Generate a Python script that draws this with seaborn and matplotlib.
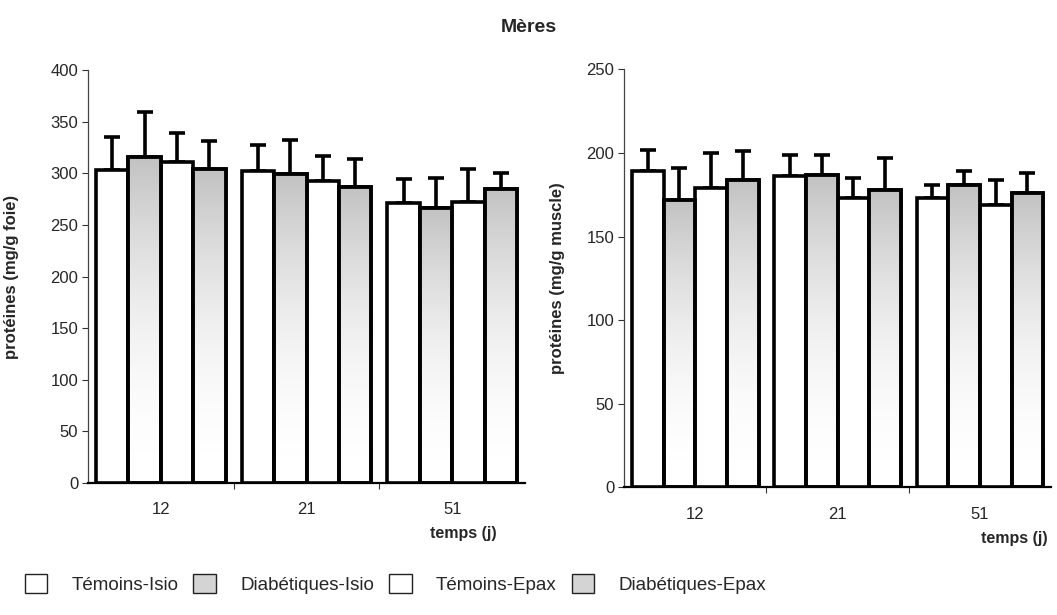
import numpy as np
import pandas as pd
import matplotlib
matplotlib.use("Agg")
import matplotlib.pyplot as plt
import seaborn as sns
from matplotlib.patches import Patch

sns.set_theme(style="white")
plt.rcParams["font.family"] = ["Liberation Sans", "DejaVu Sans"]

# ---- data -------------------------------------------------------------
days = ["12", "21", "51"]
groups = ["Témoins-Isio", "Diabétiques-Isio", "Témoins-Epax", "Diabétiques-Epax"]

# liver proteins (mg/g foie): means and upper error
foie_temoins_isio = [303, 302, 271]
foie_diab_isio = [316, 299, 266]
foie_temoins_epax = [311, 293, 272]
foie_diab_epax = [304, 287, 285]
foie_err_temoins_isio = [32, 25, 23]
foie_err_diab_isio = [43, 33, 29]
foie_err_temoins_epax = [28, 24, 32]
foie_err_diab_epax = [27, 27, 15]

# muscle proteins (mg/g muscle): means and upper error
muscle_temoins_isio = [189, 186, 173]
muscle_diab_isio = [172, 187, 181]
muscle_temoins_epax = [179, 173, 169]
muscle_diab_epax = [184, 178, 176]
muscle_err_temoins_isio = [13, 13, 8]
muscle_err_diab_isio = [19, 12, 8]
muscle_err_temoins_epax = [21, 12, 15]
muscle_err_diab_epax = [17, 19, 12]


def long_table(means, errs):
    rows = []
    for g, m, e in zip(groups, means, errs):
        for d, v, s in zip(days, m, e):
            rows.append({"temps": d, "groupe": g, "valeur": v, "err": s})
    return pd.DataFrame(rows)


foie = long_table(
    [foie_temoins_isio, foie_diab_isio, foie_temoins_epax, foie_diab_epax],
    [foie_err_temoins_isio, foie_err_diab_isio, foie_err_temoins_epax, foie_err_diab_epax],
)
muscle = long_table(
    [muscle_temoins_isio, muscle_diab_isio, muscle_temoins_epax, muscle_diab_epax],
    [muscle_err_temoins_isio, muscle_err_diab_isio, muscle_err_temoins_epax, muscle_err_diab_epax],
)

shaded = {"Diabétiques-Isio", "Diabétiques-Epax"}
palette = {g: "white" for g in groups}

# vertical grey ramp used to shade the diabetic bars (darker on top, fading down)
ramp = np.linspace(0, 1, 256)[:, None]
shade = np.zeros((256, 1, 4))
shade[..., :3] = 0.5
shade[..., 3] = 0.48 * ramp ** 2.0


def draw_panel(ax, df, ymax, yticks, ylabel, xlabel_pos, ylabel_x):
    sns.barplot(data=df, x="temps", y="valeur", hue="groupe", order=days,
                hue_order=groups, palette=palette, width=0.89, errorbar=None,
                edgecolor="black", linewidth=2.6, legend=False, ax=ax, zorder=3)
    bars = [p for p in ax.patches][: len(df)]
    keyed = df.set_index(["groupe", "temps"])
    i = 0
    for g in groups:
        for d in days:
            bar = bars[i]
            i += 1
            x0, w, h = bar.get_x(), bar.get_width(), bar.get_height()
            xc = x0 + w / 2
            err = keyed.loc[(g, d), "err"]
            ax.errorbar(xc, h, yerr=[[0], [err]], fmt="none", ecolor="black",
                        elinewidth=2.6, capsize=5.5, capthick=2.6, zorder=2)
            if g in shaded:
                im = ax.imshow(shade, extent=(x0, x0 + w, 0, h), origin="lower",
                               aspect="auto", zorder=3.5, interpolation="bilinear")
                im.set_clip_path(bar)
                # redraw the outline over the shading
                ax.add_patch(plt.Rectangle((x0, 0), w, h, fill=False,
                                           edgecolor="black", linewidth=2.6, zorder=4))
    ax.set_xlim(-0.5, 2.5)
    ax.set_ylim(0, ymax)
    ax.set_yticks(yticks)
    ax.set_yticklabels([str(t) for t in yticks], fontsize=12)
    ax.tick_params(axis="y", which="major", direction="out", length=4, width=0.8,
                   color="#333333", left=True, pad=3)
    ax.tick_params(axis="x", which="major", length=0, pad=14, labelsize=12)
    ax.set_xticks([0.5, 1.5], minor=True)
    ax.tick_params(axis="x", which="minor", direction="out", length=4, width=0.8,
                   color="#333333", bottom=True)
    for side in ["top", "right"]:
        ax.spines[side].set_visible(False)
    ax.spines["left"].set_color("#444444")
    ax.spines["left"].set_linewidth(0.9)
    ax.spines["bottom"].set_color("black")
    ax.spines["bottom"].set_linewidth(1.6)
    ax.set_facecolor("white")
    ax.set_xlabel("temps (j)", fontsize=11.5, fontweight="bold")
    ax.xaxis.set_label_coords(*xlabel_pos)
    ax.set_ylabel(ylabel, fontsize=12, fontweight="bold")
    ax.yaxis.set_label_coords(ylabel_x, 0.5)


fig = plt.figure(figsize=(10.57, 6.15), dpi=100)
fig.patch.set_facecolor("white")

ax1 = fig.add_axes([0.0833, 0.2146, 0.4134, 0.6715])
ax2 = fig.add_axes([0.5904, 0.2076, 0.4040, 0.6797])

draw_panel(ax1, foie, 400, [0, 50, 100, 150, 200, 250, 300, 350, 400],
           "protéines (mg/g foie)", (0.858, -0.105), -0.158)
draw_panel(ax2, muscle, 250, [0, 50, 100, 150, 200, 250],
           "protéines (mg/g muscle)", (0.915, -0.105), -0.138)

fig.text(529 / 1057, 1 - 28 / 615, "Mères", ha="center", va="center",
         fontsize=14, fontweight="bold")

legend_colors = {"Témoins-Isio": "white", "Diabétiques-Isio": "#d4d4d4",
                 "Témoins-Epax": "white", "Diabétiques-Epax": "#d4d4d4"}
handles = [Patch(facecolor=legend_colors[g], edgecolor="#222222", linewidth=1.0, label=g)
           for g in groups]
fig.legend(handles=handles, loc="center left", bbox_to_anchor=(17 / 1057, 1 - 584 / 615),
           ncol=4, frameon=False, fontsize=13.5, handlelength=1.2, handleheight=1.2,
           handletextpad=1.3, columnspacing=0.8, borderaxespad=0)

fig.savefig("out.png", dpi=100, facecolor="white")
